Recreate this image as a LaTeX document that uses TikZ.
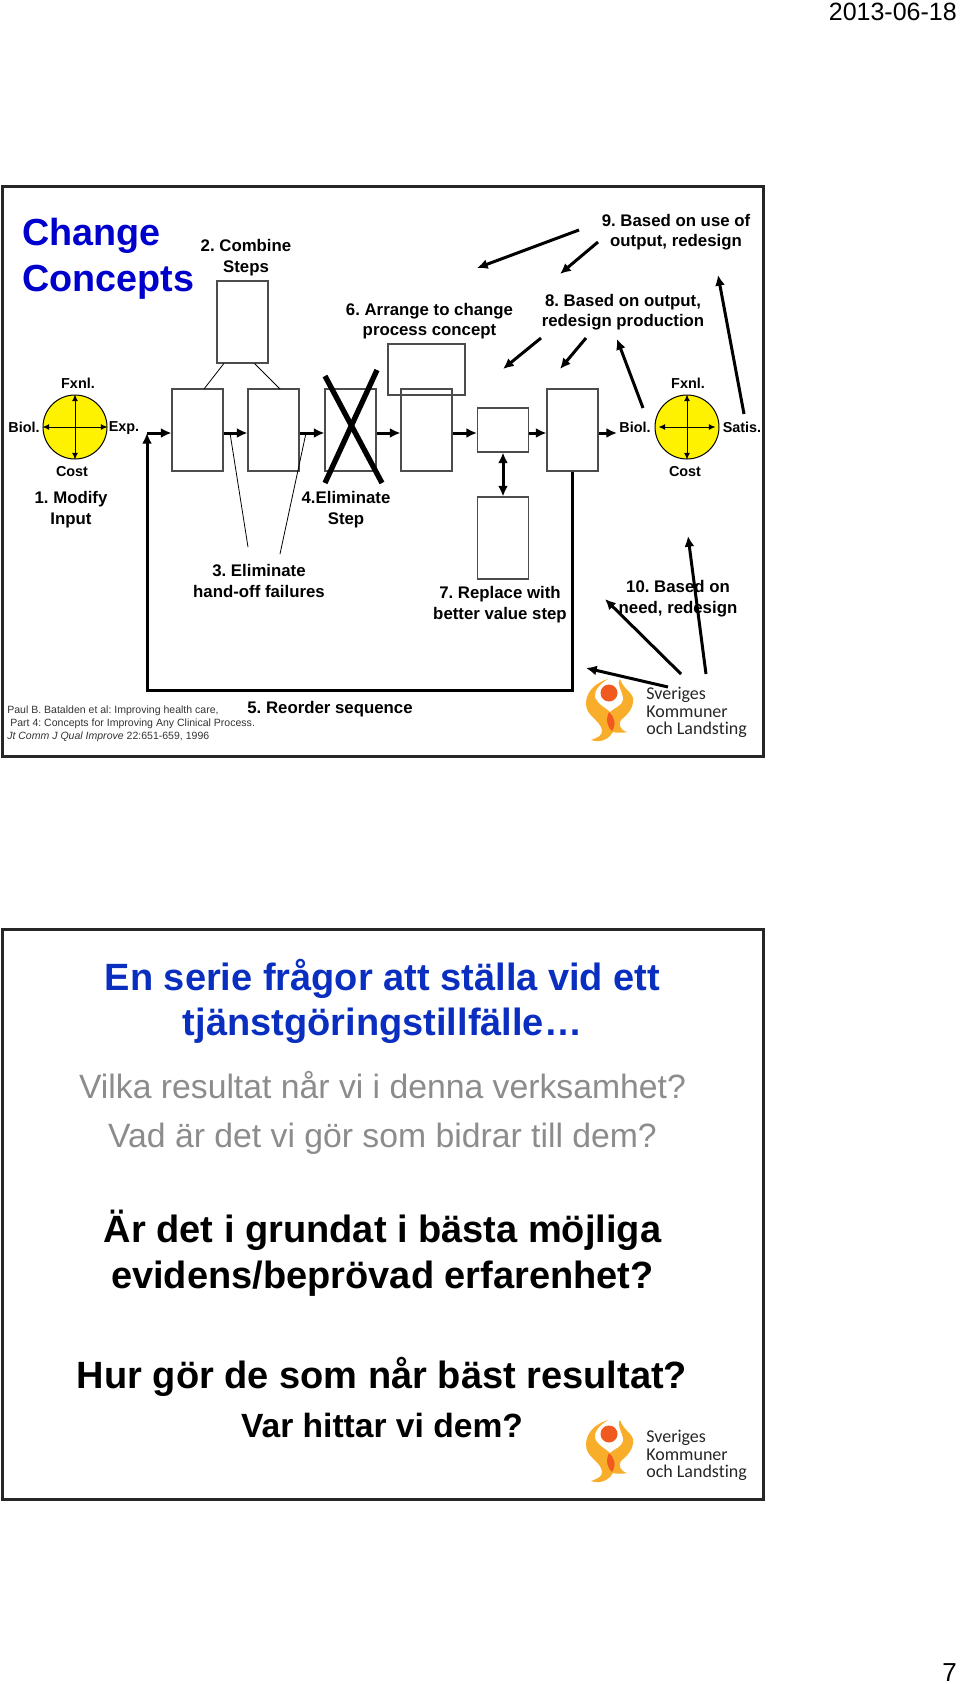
\documentclass[tikz,border=0pt]{standalone}
\usepackage{fontspec}
\setmainfont{Liberation Sans}
\newfontfamily\sklfont[Ligatures=NoCommon]{Carlito}
\usetikzlibrary{arrows.meta}
\definecolor{slideblue}{HTML}{0A2FC0}
\definecolor{titleblue}{HTML}{0000CC}
\definecolor{sklyellow}{HTML}{F9AE2B}
\definecolor{sklred}{HTML}{F15A1E}
\frenchspacing

\newcommand{\sklogo}[4]{
    \begin{scope}[shift={(#2,#3)}]
        \fill[sklyellow] (28,9) .. controls (12,14) and (6,24) .. (6,34)
            .. controls (6,46) and (20,50) .. (22,60)
            .. controls (23,66) and (16,68) .. (11,70)
            .. controls (20,73) and (28,70) .. (33,62)
            .. controls (36,63) and (42,63) .. (47,62)
            .. controls (40,60) and (38,54) .. (41,50)
            .. controls (48,44) and (54,38) .. (53,28)
            .. controls (52,22) and (44,20) .. (40,9)
            .. controls (36,14) and (44,24) .. (43,30)
            .. controls (42,36) and (34,38) .. (30,42)
            .. controls (26,38) and (17,34) .. (15,27)
            .. controls (14,20) and (20,14) .. (28,9) -- cycle;
        \fill[sklred] (29,23) circle (8.5);
        \fill[sklred] (29,42) .. controls (25,50) and (28,58) .. (32,61)
            .. controls (37,54) and (34,46) .. (29,42) -- cycle;
        \node[sklname] (#1a) at (66,{28+#4}) {Sveriges};
        \node[sklname] (#1b) at (66,{46+#4}) {Kommuner};
        \node[sklname] (#1c) at (66,{63+#4}) {och Landsting};
    \end{scope}
}

\begin{document}
\begin{tikzpicture}[x=0.75pt,y=-0.75pt]
    \tikzstyle{frame}=[draw=black!85,line width=2.25pt]
    \tikzstyle{stepbox}=[rectangle,draw=black!70,line width=0.8pt,inner sep=0pt]
    \tikzstyle{tall}=[stepbox,minimum width=38.25pt,minimum height=61.5pt]
    \tikzstyle{disc}=[circle,draw=black,fill=yellow,line width=0.75pt,minimum size=48pt,inner sep=0pt]
    \tikzstyle{axis}=[draw=black,line width=0.75pt,{Latex[length=5pt,width=4.5pt]}-{Latex[length=5pt,width=4.5pt]}]
    \tikzstyle{arrow}=[draw=black,line width=2.25pt,-{Latex[length=8pt,width=7.5pt]}]
    \tikzstyle{dbl}=[draw=black,line width=2.25pt,{Latex[length=8pt,width=7.5pt]}-{Latex[length=8pt,width=7.5pt]}]
    \tikzstyle{thin}=[draw=black,line width=0.6pt]
    \tikzstyle{cross}=[draw=black,line width=4pt]
    \tikzstyle{lbl}=[align=center,inner sep=0pt,font=\bfseries\fontsize{12.6}{15.4}\selectfont]
    \tikzstyle{small}=[align=center,inner sep=0pt,font=\bfseries\fontsize{10.8}{13}\selectfont]
    \tikzstyle{big}=[align=center,inner sep=0pt,anchor=base,font=\bfseries\fontsize{28.5}{34}\selectfont]
    \tikzstyle{grey}=[big,text=black!45,font=\fontsize{25.3}{30}\selectfont]
    \tikzstyle{sklname}=[anchor=base west,inner sep=0pt,text=black!85,font=\sklfont\fontsize{13.5}{16}\selectfont]

    \useasboundingbox (0,0) rectangle (960,1684);

    \node[anchor=base east,inner sep=0pt,font=\fontsize{18.75}{22}\selectfont] (date) at (957,21) {2013-06-18};
    \node[anchor=base east,inner sep=0pt,font=\fontsize{19.5}{22}\selectfont] (page) at (957,1681) {7};

    % first slide
    \draw[frame] (2,186) rectangle (763,756);

    \node[anchor=west,align=left,inner sep=0pt,text=titleblue,font=\bfseries\fontsize{28.3}{34.5}\selectfont] (title) at (22,258.5) {Change\\Concepts};

    \node[tall] (b1) at (197.5,430) {};
    \node[tall] (b2) at (273.5,430) {};
    \node[tall] (b3) at (350.5,430) {};
    \node[tall] (b4) at (426.5,430) {};
    \node[stepbox,minimum width=38.25pt,minimum height=33pt] (b5) at (503,430) {};
    \node[tall] (b6) at (572.5,430) {};
    \node[tall] (b7) at (242.5,322) {};
    \node[stepbox,minimum width=57.75pt,minimum height=38.25pt] (b8) at (426.5,369.5) {};
    \node[tall] (b9) at (503,538) {};

    \node[disc] (c1) at (75,427) {};
    \node[disc] (c2) at (687,427) {};
    \path[axis] (c1.north) -- (c1.south);
    \path[axis] (c1.west) -- (c1.east);
    \path[axis] (c2.north) -- (c2.south);
    \path[axis] ([xshift=3pt]c2.west) -- ([xshift=-3pt]c2.east);

    \node[small] (f1) at (78,383) {Fxnl.};
    \node[small] (f2) at (24,427) {Biol.};
    \node[small] (f3) at (124,428) {Exp.};
    \node[small] (f4) at (72,472) {Cost};
    \node[small] (g1) at (688,383) {Fxnl.};
    \node[small] (g2) at (635,427) {Biol.};
    \node[small] (g3) at (742,427) {Satis.};
    \node[small] (g4) at (685,472) {Cost};

    \node[lbl] (t1) at (71,509.5) {1. Modify\\Input};
    \node[lbl] (t2) at (246,257.5) {2. Combine\\Steps};
    \node[lbl] (t3) at (259,581) {3. Eliminate\\hand-off failures};
    \node[lbl] (t4) at (346,509.5) {4.Eliminate\\Step};
    \node[lbl] (t5) at (330,709.5) {5. Reorder sequence};
    \node[lbl] (t6) at (429.5,321) {6. Arrange to change\\process concept};
    \node[lbl] (t7) at (500,604.5) {7. Replace with\\better value step};
    \node[lbl] (t8) at (623,312) {8. Based on output,\\redesign production};
    \node[lbl] (t9) at (676,232) {9. Based on use of\\output, redesign};
    \node[lbl] (t10) at (678,598.5) {10. Based on\\need, redesign};

    \node[anchor=west,align=left,inner sep=0pt,text=black!80,font=\fontsize{7.9}{9.7}\selectfont] (cite) at (7,724)
        {Paul B. Batalden et al: Improving health care,\\
        \hspace*{2.25pt}Part 4: Concepts for Improving Any Clinical Process.\\
        \textit{Jt Comm J Qual Improve} 22:651-659, 1996};

    \coordinate (e1) at (617,433);
    \coordinate (r1) at (147,690);
    \coordinate (r2) at (147,433);

    \path[arrow] ([yshift=-2.25pt]b1.east) -- ([yshift=-2.25pt]b2.west);
    \path[arrow] ([yshift=-2.25pt]b2.east) -- ([yshift=-2.25pt]b3.west);
    \path[arrow] ([yshift=-2.25pt]b3.east) -- ([yshift=-2.25pt]b4.west);
    \path[arrow] ([yshift=-2.25pt]b4.east) -- ([yshift=-2.25pt]b5.west);
    \path[arrow] ([yshift=-2.25pt]b5.east) -- ([yshift=-2.25pt]b6.west);
    \path[arrow] ([yshift=-2.25pt]b6.east) -- (e1);
    \path[arrow] (b6.south) |- (r1) -- (r2);
    \path[arrow] (r2) -- ([yshift=-2.25pt]b1.west);
    \path[dbl] (b5.south) -- (b9.north);

    \coordinate (j1) at (204,389);
    \coordinate (j2) at (280,389);
    \coordinate (j3) at (230,433);
    \coordinate (j4) at (248,547);
    \coordinate (j5) at (306,433);
    \coordinate (j6) at (280,554);
    \path[thin] ([xshift=-14pt]b7.south) -- (j1);
    \path[thin] ([xshift=9pt]b7.south) -- (j2);
    \path[thin] (j3) -- (j4);
    \path[thin] (j5) -- (j6);

    \coordinate (x1) at (325,376);
    \coordinate (x2) at (382,483);
    \coordinate (x3) at (377,370);
    \coordinate (x4) at (325,483);
    \path[cross] (x1) -- (x2);
    \path[cross] (x3) -- (x4);

    \coordinate (a1) at (579,230);
    \coordinate (a2) at (477,268);
    \coordinate (a3) at (598,242);
    \coordinate (a4) at (560,274);
    \coordinate (a5) at (541,338);
    \coordinate (a6) at (503,369);
    \coordinate (a7) at (586,338);
    \coordinate (a8) at (560,369);
    \coordinate (a9) at (643,408);
    \coordinate (a10) at (617,339);
    \coordinate (a11) at (744,414);
    \coordinate (a12) at (718,275);
    \coordinate (a13) at (706,674);
    \coordinate (a14) at (688,536);
    \coordinate (a15) at (681,674);
    \coordinate (a16) at (605,599);
    \coordinate (a17) at (668,687);
    \coordinate (a18) at (586,668);

    \sklogo{k}{580}{670}{1}

    \path[arrow] (a1) -- (a2);
    \path[arrow] (a3) -- (a4);
    \path[arrow] (a5) -- (a6);
    \path[arrow] (a7) -- (a8);
    \path[arrow] (a9) -- (a10);
    \path[arrow] (a11) -- (a12);
    \path[arrow] (a13) -- (a14);
    \path[arrow] (a15) -- (a16);
    \path[arrow] (a17) -- (a18);

    % second slide
    \draw[frame] (2,929) rectangle (763,1499);

    \node[big,text=slideblue] (q1) at (382.5,990) {En serie frågor att ställa vid ett};
    \node[big,text=slideblue] (q2) at (382.5,1035) {tjänstgöringstillfälle\dots};
    \node[grey] (q3) at (382.5,1098) {Vilka resultat når vi i denna verksamhet?};
    \node[grey] (q4) at (382.5,1147) {Vad är det vi gör som bidrar till dem?};
    \node[big] (q5) at (382.5,1242) {Är det i grundat i bästa möjliga};
    \node[big] (q6) at (382.5,1288) {evidens/beprövad erfarenhet?};
    \node[big] (q7) at (382,1388) {Hur gör de som når bäst resultat?};
    \node[big,font=\bfseries\fontsize{25.2}{30}\selectfont] (q8) at (382,1437) {Var hittar vi dem?};

    \sklogo{m}{580}{1411}{3.5}
\end{tikzpicture}
\end{document}
